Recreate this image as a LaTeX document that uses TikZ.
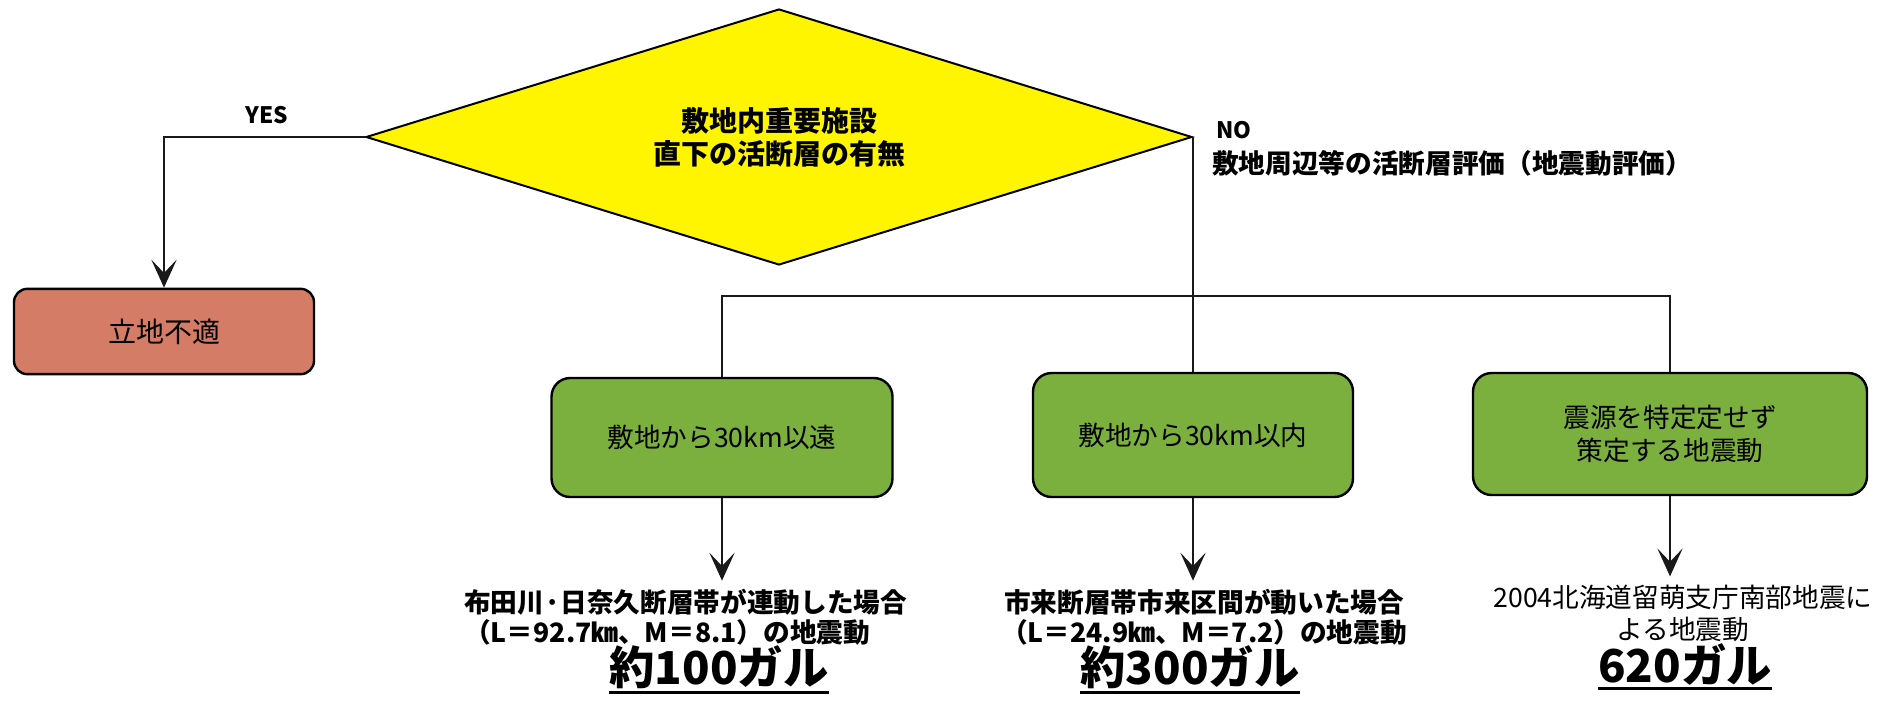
\documentclass[tikz,border=0pt]{standalone}
\usepackage{fontspec}
\setmainfont{Noto Sans CJK JP}
\usetikzlibrary{shapes.geometric,arrows.meta}
\definecolor{dyellow}{RGB}{255,245,0}
\definecolor{dred}{RGB}{213,124,103}
\definecolor{dgreen}{RGB}{124,176,62}
\begin{document}
\begin{tikzpicture}[x=0.75pt,y=-0.75pt,
  line/.style={line width=1.5pt, draw=black!90},
  arr/.style={line, -{Stealth[length=21pt,width=19pt,inset=10pt]}},
  decision/.style={diamond, draw, line width=1.5pt, fill=dyellow, minimum width=619.5pt, minimum height=192pt, inner sep=0pt, aspect=3.2, font=\bfseries\fontsize{21}{25}\selectfont, align=center},
  redbox/.style={rectangle, rounded corners=10pt, draw, line width=1.8pt, fill=dred, minimum width=225pt, minimum height=64pt, inner sep=0pt, font=\fontsize{21}{25}\selectfont},
  greenbox/.style={rectangle, rounded corners=14pt, draw, line width=1.8pt, fill=dgreen, inner sep=0pt, font=\fontsize{20}{25}\selectfont, align=center},
  lbl/.style={inner sep=0pt, font=\bfseries\fontsize{17}{20}\selectfont},
  result/.style={inner sep=0pt, align=center, font=\bfseries\fontsize{20}{22.5}\selectfont},
  gal/.style={inner sep=0pt, font=\bfseries\fontsize{34}{40}\selectfont},
  uline/.style={line width=2.2pt}
]
\useasboundingbox (0,0) rectangle (1899,700);

% decision
\node[decision] (dia) at (779,137) {敷地内重要施設\\直下の活断層の有無};

% YES branch
\node[redbox] (red) at (164,331.5) {立地不適};
\node[lbl] (yes) at (267,115) {YES};
\draw[arr] (dia.west) -| (red.north);

% NO branch
\node[lbl, anchor=west] (no) at (1216,130) {NO};
\node[lbl, anchor=west, font=\bfseries\fontsize{20}{24}\selectfont] (noeval) at (1212,163) {敷地周辺等の活断層評価（地震動評価）};

\node[greenbox, minimum width=255.75pt, minimum height=89.25pt] (g1) at (722,437.5) {敷地から30km以遠};
\node[greenbox, minimum width=240pt, minimum height=93pt] (g2) at (1193,435) {敷地から30km以内};
\node[greenbox, minimum width=295.5pt, minimum height=91.5pt] (g3) at (1670,434) {震源を特定定せず\\策定する地震動};

\coordinate (bl) at (722,296);
\coordinate (br) at (1670,296);
\draw[line] (g1.north) -- (bl) -- (br) -- (g3.north);
\draw[line] (dia.east) -- (dia.east |- g2.north);

% results
\node[result, align=left, anchor=west] (r1) at (464,617) {布田川·日奈久断層帯が連動した場合\\（L＝92.7㎞、M＝8.1）の地震動};
\node[result] (r2) at (1204,617) {市来断層帯市来区間が動いた場合\\（L＝24.9㎞、M＝7.2）の地震動};
\node[result, font=\fontsize{20}{24}\selectfont] (r3) at (1683,613) {2004北海道留萌支庁南部地震に\\よる地震動};

\draw[arr, shorten >=6pt] (g1.south) -- (g1.south |- r1.north);
\draw[arr, shorten >=6pt] (g2.south) -- (g2.south |- r2.north);
\draw[arr, shorten >=6pt] (g3.south) -- (g3.south |- r3.north);

\node[gal] (b1) at (719,667) {約100ガル};
\node[gal] (b2) at (1190,667) {約300ガル};
\node[gal] (b3) at (1685,665) {620ガル};
\draw[uline] ([yshift=-3pt]b1.south west) -- ([yshift=-3pt]b1.south east);
\draw[uline] ([yshift=-3pt]b2.south west) -- ([yshift=-3pt]b2.south east);
\draw[uline] ([yshift=-2pt]b3.south west) -- ([yshift=-2pt]b3.south east);
\end{tikzpicture}
\end{document}
